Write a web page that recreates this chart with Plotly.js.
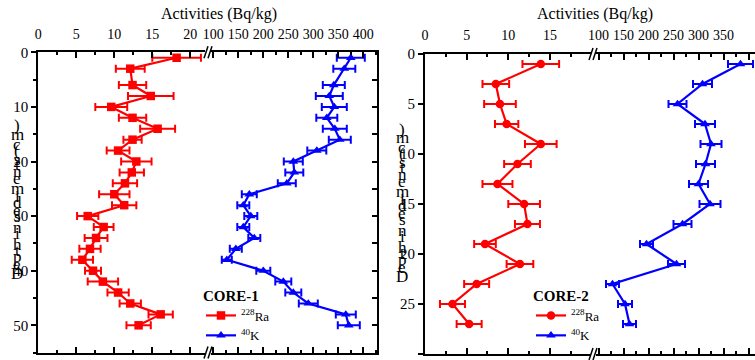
<!DOCTYPE html>
<html>
<head>
<meta charset="utf-8">
<script src="https://cdn.plot.ly/plotly-3.0.1.min.js"></script>
<style>html,body{margin:0;padding:0;background:#fff;}#chart{width:755px;height:360px;}</style>
</head>
<body>
<div id="chart"></div>
<script>
// ---- Data ----
const depth1 = [1,3,6,8,10,12,14,16,18,20,22,24,26,28,30,32,34,36,38,40,42,44,46,48,50];
const ra1 = [18.2,12.1,12.4,14.8,9.6,12.4,15.7,12.4,10.5,12.9,12.3,11.4,10.0,11.3,6.5,8.6,7.6,6.8,5.8,7.2,8.5,10.5,12.1,16.1,13.2];
const ra1Err = [3.2,1.9,1.8,3.0,2.1,1.8,2.3,1.2,1.5,2.0,1.6,1.6,2.0,1.6,1.4,1.3,1.5,1.4,1.4,1.05,2.0,1.4,1.4,1.6,1.6];
const k1 = [375,362,341,332,342,327,343,353,307,260,262,247,172,160,175,160,182,145,127,200,240,260,290,365,371];
const k1Err = [28,22,22,27,25,21,24,22,19,19,18,18,15,12,13,12,12,12,10,14,16,16,19,20,22];

const depth2 = [1,3,5,7,9,11,13,15,17,19,21,23,25,27];
const ra2 = [13.9,8.5,9.0,9.8,13.9,11.1,8.7,11.9,12.3,7.2,11.4,6.2,3.3,5.3];
const ra2Err = [2.2,1.6,1.9,1.4,1.9,1.6,1.8,1.9,1.5,1.3,1.6,1.5,1.5,1.5];
const k2 = [384,308,258,313,325,314,300,323,268,196,256,128,153,162];
const k2Err = [25,19,18,20,21,19,19,21,18,13,17,13,14,13];

const raName = '<sup>228</sup>Ra';
const kName = '<sup>40</sup>K';
const coreNames = ['CORE-1','CORE-2'];
const xTitle = 'Activities (Bq/kg)';
const yTitle = 'Depth in sediments (cm)';

// ---- Styling ----
const FONT = 'Liberation Serif';
const RED = '#ff0000', BLUE = '#0000ff';
const W = 755, H = 360;
const px = v => v / W;
const py = v => 1 - v / H;

function errX(arr, color) {
  return {type: 'data', array: arr, visible: true, color: color, thickness: 2, width: 4};
}
function series(x, y, err, name, color, symbol, xa, ya, legend) {
  return {
    x: x, y: y, name: name, type: 'scatter', mode: 'lines+markers',
    xaxis: xa, yaxis: ya, legend: legend,
    line: {color: color, width: 2.2},
    marker: {color: color, symbol: symbol, size: 8.5},
    error_x: errX(err, color),
    cliponaxis: false
  };
}

const data = [
  series(ra1, depth1, ra1Err, raName, RED, 'square', 'x', 'y', 'legend'),
  series(k1, depth1, k1Err, kName, BLUE, 'triangle-up', 'x2', 'y3', 'legend'),
  series(ra2, depth2, ra2Err, raName, RED, 'circle', 'x3', 'y2', 'legend2'),
  series(k2, depth2, k2Err, kName, BLUE, 'triangle-up', 'x4', 'y2', 'legend2')
];

const axBase = {
  showgrid: false, zeroline: false, showline: true, linecolor: '#000', linewidth: 2,
  tickcolor: '#000', tickwidth: 2, color: '#000',
  tickfont: {family: FONT, size: 14, color: '#000'}
};
function topX(domain, range, dtick, minor, anchor) {
  return Object.assign({}, axBase, {
    domain: domain, range: range, side: 'top', anchor: anchor,
    ticks: 'inside', ticklen: 6, dtick: dtick, tick0: 0, mirror: 'ticks',
    ticklabelstandoff: 6,
    minor: {dtick: minor, tick0: 0, ticks: 'inside', ticklen: 3, tickwidth: 2, tickcolor: '#000'}
  });
}

const legendBase = {
  xanchor: 'left', yanchor: 'top', bgcolor: 'rgba(0,0,0,0)', borderwidth: 0,
  font: {family: FONT, size: 13, color: '#000'}, tracegroupgap: 0, itemwidth: 30
};

const layout = {
  width: W, height: H,
  margin: {l: 0, r: 0, t: 0, b: 0},
  paper_bgcolor: '#fff', plot_bgcolor: 'rgba(0,0,0,0)',
  font: {family: FONT, color: '#000'},
  showlegend: true,
  xaxis: topX([px(38.3), px(205)], [0, (205 - 38.3) / 7.6], 5, 2.5, 'y'),
  xaxis2: topX([px(211), px(377)], [100 + (211 - 213.3) / 0.5, 100 + (377 - 213.3) / 0.5], 50, 25, 'y3'),
  xaxis3: topX([px(425), px(591)], [0, (591 - 425) / 8.33], 5, 2.5, 'y2'),
  xaxis4: topX([px(596), 1], [100 + (596 - 598.5) / 0.5, 100 + (755 - 598.5) / 0.5], 50, 25, 'y2'),
  yaxis: Object.assign({}, axBase, {
    domain: [py(352.6), py(52.3)], range: [55, 0], anchor: 'x', side: 'left',
    ticks: 'outside', ticklen: 5, dtick: 10, tick0: 0,
    tickfont: {family: FONT, size: 15, color: '#000'},
    minor: {dtick: 5, tick0: 0, ticks: 'outside', ticklen: 3, tickwidth: 2, tickcolor: '#000'}
  }),
  yaxis3: Object.assign({}, axBase, {
    domain: [py(352.6), py(52.3)], range: [55, 0], anchor: 'x2', side: 'right',
    ticks: 'inside', ticklen: 5, dtick: 5, tick0: 0, showticklabels: false
  }),
  yaxis2: Object.assign({}, axBase, {
    domain: [py(354), py(54)], range: [30, 0], anchor: 'x3', side: 'left',
    ticks: 'outside', ticklen: 5, dtick: 5, tick0: 0,
    tickfont: {family: FONT, size: 15, color: '#000'}
  }),
  legend: Object.assign({}, legendBase, {
    x: px(201), y: py(281),
    title: {text: '<b>' + coreNames[0] + '</b>', font: {family: FONT, size: 15, color: '#000'}}
  }),
  legend2: Object.assign({}, legendBase, {
    x: px(531), y: py(281),
    title: {text: '<b>' + coreNames[1] + '</b>', font: {family: FONT, size: 15, color: '#000'}}
  }),
  annotations: [],
  shapes: []
};

// Axis titles
[219, 595].forEach(cx => {
  layout.annotations.push({text: xTitle, xref: 'paper', yref: 'paper', x: px(cx), y: py(14),
    xanchor: 'center', yanchor: 'middle', showarrow: false,
    font: {family: FONT, size: 16, color: '#000'}});
});

// Stacked-glyph y titles (characters stacked bottom-to-top, upright)
const glyphW = {'D':11,'e':7,'p':8,'t':4.5,'h':8,' ':4,'i':4.5,'n':8,'s':6,'d':8,'m':12,'(':5,'c':7,')':5};
function stackTitle(xc, yBottom) {
  let y = yBottom;
  const chars = yTitle.split('');
  chars.forEach((ch, i) => {
    const w = glyphW[ch] || 7;
    if (i > 0) y -= w / 2;
    if (ch !== ' ') {
      layout.annotations.push({text: ch, xref: 'paper', yref: 'paper', x: px(xc), y: py(y),
        xanchor: 'center', yanchor: 'middle', showarrow: false,
        font: {family: FONT, size: 17, color: '#000'}});
    }
    y -= w / 2;
  });
}
stackTitle(17, 273);
stackTitle(402, 276);

// Axis break marks
function breakMark(x, y) {
  [[-4, 0], [0, 0]].forEach(o => {
    layout.shapes.push({type: 'line', xref: 'paper', yref: 'paper',
      x0: px(x + o[0] - 2), y0: py(y + 6), x1: px(x + o[0] + 2), y1: py(y - 6),
      line: {color: '#000', width: 1.5}});
  });
}
breakMark(210, 52.3); breakMark(210, 352.6);
breakMark(595, 54); breakMark(595, 354);

Plotly.newPlot('chart', data, layout, {staticPlot: true, displayModeBar: false});
</script>
</body>
</html>
